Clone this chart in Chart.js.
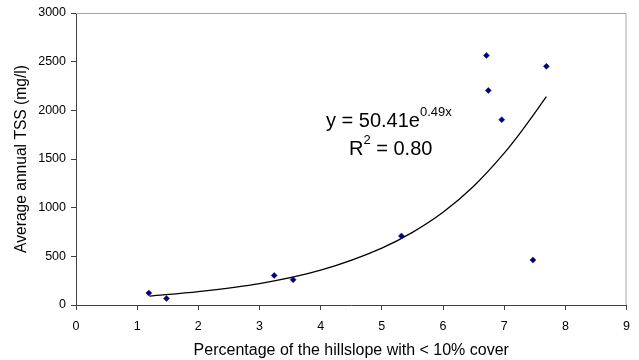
<!DOCTYPE html>
<html>
<head>
<meta charset="utf-8">
<script src="https://cdn.jsdelivr.net/npm/chart.js@4"></script>
<style>
  body { margin: 0; background: #fff; }
  #wrap { width: 639px; height: 360px; }
</style>
</head>
<body>
<div id="wrap"><canvas id="chart"></canvas></div>
<script>
// measured points (% hillslope with <10% cover vs average annual TSS)
const coverPct = [1.19, 1.48, 3.24, 3.55, 5.32, 6.71, 6.74, 6.96, 7.47, 7.69];
const tssValues = [123, 68, 304, 260, 709, 2564, 2205, 1904, 462, 2452];

// exponential trendline, values
const trendX = [1.2, 2, 3, 4, 5, 5.5, 6, 6.5, 7, 7.3, 7.69];
const trendY = [92, 138, 220, 358, 585, 746, 952, 1220, 1560, 1800, 2140];

const xTitle = 'Percentage of the hillslope with < 10% cover';
const yTitle = 'Average annual TSS (mg/l)';

const FONT = '"Liberation Sans", Arial, sans-serif';

const frameAndLabel = {
  id: 'frameAndLabel',
  afterDraw(chart) {
    const ctx = chart.ctx;
    const a = chart.chartArea;
    ctx.save();
    // grey top + right border
    ctx.strokeStyle = '#a6a6a6';
    ctx.lineWidth = 1;
    ctx.beginPath();
    ctx.moveTo(a.left, a.top + 0.5);
    ctx.lineTo(a.right - 0.5, a.top + 0.5);
    ctx.lineTo(a.right - 0.5, a.bottom);
    ctx.stroke();

    // trendline equation
    ctx.fillStyle = '#000';
    ctx.textBaseline = 'alphabetic';
    ctx.textAlign = 'left';
    let x = 326;
    ctx.font = '20px ' + FONT;
    ctx.fillText('y = 50.41e', x, 127);
    x += ctx.measureText('y = 50.41e').width;
    ctx.font = '13px ' + FONT;
    ctx.fillText('0.49x', x, 116);

    x = 349;
    ctx.font = '20px ' + FONT;
    ctx.fillText('R', x, 155);
    x += ctx.measureText('R').width;
    ctx.font = '13px ' + FONT;
    ctx.fillText('2', x, 144);
    x += ctx.measureText('2').width;
    ctx.font = '20px ' + FONT;
    ctx.fillText(' = 0.80', x, 155);
    ctx.restore();
  }
};

new Chart(document.getElementById('chart'), {
  type: 'scatter',
  data: {
    datasets: [{
      label: 'TSS',
      data: coverPct.map((x, i) => ({ x: x, y: tssValues[i] })),
      pointStyle: 'rectRot',
      pointRadius: 3,
      backgroundColor: '#000080',
      borderColor: '#000080',
      borderWidth: 0.5
    }, {
      label: 'Trend',
      data: trendX.map((x, i) => ({ x: x, y: trendY[i] })),
      showLine: true,
      pointRadius: 0,
      borderColor: '#000',
      borderWidth: 1.3,
      cubicInterpolationMode: 'monotone'
    }]
  },
  options: {
    responsive: true,
    maintainAspectRatio: false,
    animation: false,
    layout: { padding: { left: 0, top: 13, right: 10, bottom: 0 } },
    plugins: { legend: { display: false }, tooltip: { enabled: false } },
    scales: {
      x: {
        type: 'linear',
        min: 0, max: 9,
        afterFit(scale) { scale.height = 55; },
        ticks: { stepSize: 1, color: '#000', padding: 9, font: { family: FONT, size: 12.5 } },
        grid: { drawOnChartArea: false, drawTicks: true, tickLength: 5, tickColor: '#404040' },
        border: { display: true, color: '#404040', width: 1 },
        title: { display: true, text: xTitle, color: '#000', padding: { top: 0, bottom: 0 }, font: { family: FONT, size: 16 } }
      },
      y: {
        min: 0, max: 3000,
        afterFit(scale) { scale.width = 76; },
        ticks: { stepSize: 500, color: '#000', padding: 5, font: { family: FONT, size: 12.5 }, callback: v => String(v) },
        grid: { drawOnChartArea: false, drawTicks: true, tickLength: 5, tickColor: '#404040' },
        border: { display: true, color: '#404040', width: 1 },
        title: { display: true, text: yTitle, color: '#000', padding: { top: 12, bottom: 0 }, font: { family: FONT, size: 15.6 } }
      }
    }
  },
  plugins: [frameAndLabel]
});
</script>
</body>
</html>
